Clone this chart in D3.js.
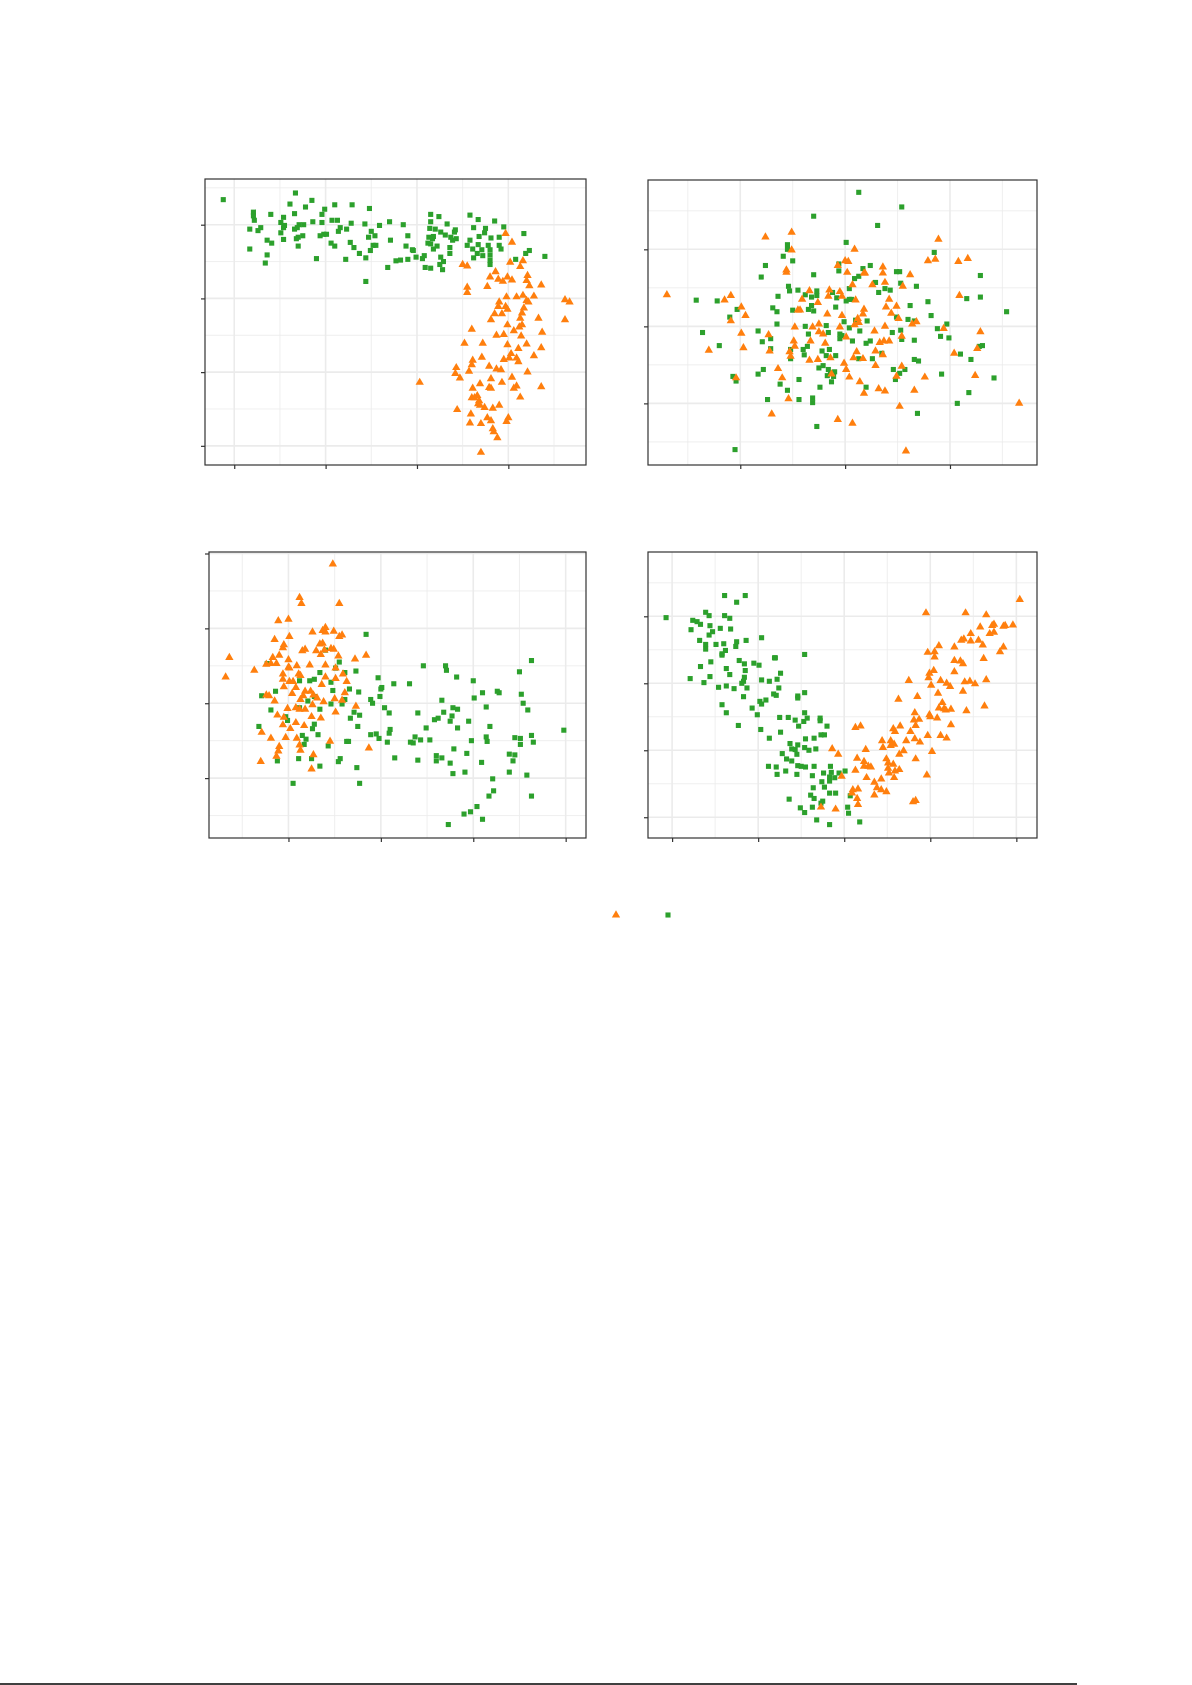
<!DOCTYPE html>
<html><head><meta charset="utf-8">
<script src="https://cdn.jsdelivr.net/npm/d3@7"></script>
<style>body{margin:0;background:#fff}</style></head>
<body><svg id="c" width="1192" height="1685"></svg>
<script>
const p1Green=[[-1.2,33.4],[6.7,34.3],[6.1,32.8],[8.5,33.3],[11,32.7],[12.9,32.7],[14.8,32.2],[7.8,32.4],[9.9,32.1],[4,31.4],[6.6,31.5],[9.6,31.4],[2.1,31.7],[2.1,31.2],[2.2,30.6],[5.4,31],[5.1,30.3],[5.5,29.9],[5.4,29.6],[7.1,30],[7.6,30],[8.6,30.4],[9.6,30.3],[10.7,30.6],[11.3,30.6],[12.8,30.2],[14.3,30.1],[15.9,29.9],[17,30.4],[18.5,30],[1.7,29.4],[2.6,29.2],[2.9,29.6],[6.6,29.4],[6.9,29.6],[5.1,28.9],[11.6,29.6],[11.4,29.1],[12.3,29.4],[15,29.1],[9.4,28.5],[9.8,28.7],[10.1,28.7],[7.5,28.5],[7,28.3],[6.8,28.1],[5.4,28],[3.6,27.9],[4.1,27.5],[10.6,27.5],[11,27.1],[12.7,27.6],[14.7,28.3],[15.4,28.5],[17.1,27.9],[19,28.5],[7,27.1],[13.1,26.9],[15.2,27.2],[15.5,27.2],[14.9,26.5],[1.7,26.7],[3.6,25.9],[3.4,24.8],[9,25.4],[12.2,25.3],[13.7,26.1],[14.4,25.5],[16.8,24.2],[17.7,25.1],[18.2,25.2],[19,25.3],[18.8,27.1],[19.5,26.6],[19.6,26.5],[19.9,25.6],[20.6,25.4],[20.8,25.8],[14.4,22.3],[21.5,31.4],[22.4,31.1],[21.5,30.4],[23.3,30.1],[25.8,31.3],[26.7,30.7],[28.5,30.5],[29.5,29.7],[21.4,29.5],[22,29.4],[22.6,29],[24.2,29.3],[24.1,29],[26.2,29.6],[27.5,29.5],[27.4,28.9],[21.3,28.3],[21.8,28.4],[21.7,28.1],[23.1,28.6],[23.7,28.3],[24.3,28.1],[23.9,27.9],[25.8,27.9],[26.8,28.4],[28.1,28.2],[29,28.3],[21.2,27.5],[21.5,27.4],[22.2,27.1],[21.8,26.7],[23.6,26.9],[25.5,27.2],[26.7,27.3],[27.8,27.2],[29,27.2],[29.2,26.7],[26.1,26.7],[27.1,26.6],[26.6,26.1],[27.2,25.8],[28,26.6],[28,25.9],[23.6,26.1],[22.6,25.6],[22.9,25],[22.5,24.6],[22.8,23.9],[20.9,24.2],[21.5,24.1],[26.2,25.5],[28,25.2],[28,24.6],[31.7,28.8],[31.9,26.1],[32.3,26.5],[30.8,25.3],[34,25.7]];
const p1Orange=[[29.7,28.8],[30.4,27.6],[25,24.6],[25.5,24.4],[30.2,24.9],[31.6,25.1],[31.3,24.3],[28.6,23.6],[28,22.9],[28.9,22.6],[29.4,22.3],[29.9,22.9],[30.4,22.5],[32.1,23.1],[32,22.4],[32.3,21.7],[33.6,21.8],[27.7,21.6],[25.5,21.5],[25.5,20.8],[29.8,20.2],[30.9,20.2],[31.6,20.4],[32.8,20.3],[32,19.7],[32.2,19.5],[29,19.5],[28.9,18.9],[29.7,18.9],[29.9,18.5],[31.7,18.7],[31.5,18],[28.5,17.9],[29.3,17.9],[28.1,17.1],[31.3,17.3],[33.3,17.3],[31.5,16.4],[29.9,16.4],[30.6,15.6],[31.2,16.1],[31.4,14.9],[29.5,15.1],[28.7,15],[26,15.8],[33.7,15.4],[36.2,19.8],[36.7,19.5],[36.2,17.1],[25.2,13.9],[27.2,13.9],[29.9,13.7],[32,13.8],[31.1,13.2],[33.6,13.3],[30.3,12.5],[29.5,11.7],[30.1,11.9],[30.9,11.9],[31.1,11.4],[32.8,12.2],[27.1,12],[26.1,11.6],[26,11],[27.9,10.8],[28.7,10.4],[29.2,10.3],[32.1,10],[24.3,10.6],[25.7,10.1],[24.2,9.8],[24.7,9.2],[20.3,8.6],[26.9,8.4],[28.1,9.1],[29.3,8.6],[30.4,9.3],[30.9,8.1],[30.6,7.8],[33.6,8],[26.1,7.8],[27.9,7.9],[28.1,7.8],[31.3,6.6],[26,6.5],[26.6,6.8],[26.3,6.5],[26.8,6.1],[26.7,5.7],[26.9,5.5],[27.4,5.2],[28.3,5.1],[29,5.5],[24.4,4.9],[25.9,4.3],[27.7,3.8],[28.1,3.4],[30,3.8],[29.8,3.3],[25.8,3.1],[27,3],[28.3,2.3],[28.4,1.9],[28.8,1.1],[27,-0.9]];
const p2Green=[[11.3,27.4],[15.4,25.5],[7,24.3],[13.1,23.1],[10.1,20.9],[4.5,20.6],[4.5,20],[18.5,19.6],[4.1,19.1],[5,18.5],[2.4,17.9],[9.4,18.1],[9.4,17.2],[12.4,17.9],[11.7,17.5],[2,16.4],[7,16.7],[14.9,17.1],[15.2,17.1],[10.9,16.2],[11.3,16.5],[22.9,16.6],[12.9,15.7],[15.3,15.6],[16.8,15.2],[4.6,15.2],[5.5,14.7],[4.7,14.6],[7.3,14.6],[8.8,14.4],[10.4,14.9],[13.2,14.4],[13.8,14.9],[14.3,14.7],[3.6,13.9],[6.2,14.1],[6.8,13.8],[7.3,14],[9.2,13.7],[10.4,13.5],[10.6,13.5],[10.1,13.3],[21.6,13.6],[22.9,13.8],[17.9,13.2],[-4.2,13.4],[-2.2,13.3],[-0.3,12.2],[3.1,12.4],[3.5,11.9],[5,12.1],[6.5,12.2],[6.8,12.7],[7,12],[9.1,12.5],[16.2,12.7],[18.2,11.4],[25.4,11.9],[-1,11.2],[11,10.8],[12.1,10.7],[14.9,11.2],[16,10.9],[16.6,10.7],[3.5,10.3],[6.2,10],[8.2,10.1],[9.9,10.6],[-3.6,9.2],[1.7,9.4],[6.5,9],[8.4,9.2],[9.5,9],[9.7,8.8],[10.4,9.8],[11.4,9.4],[14.5,9.2],[15.3,9.5],[18.8,9.7],[19.7,10.3],[19.1,8.7],[19.9,8.5],[-2,7.5],[2.1,8],[2.9,8.4],[2.9,7.1],[6.4,7.4],[9.5,8.4],[10.7,8.1],[12,7.8],[12.4,8.1],[15.4,8.3],[16.6,8.2],[22.8,7.4],[23.1,7.5],[4.8,7],[6,7],[7.8,6.8],[8.5,7],[6.1,6.3],[8.2,6.2],[9.1,6.2],[4.8,5.8],[11.3,5.8],[12.6,5.8],[13.5,6.5],[16.6,5.7],[17,5.5],[21,6.4],[22,5.7],[7.9,4.9],[7.5,4.6],[8.4,4.4],[9,4.1],[8.6,3.9],[8.3,3.6],[8.9,3.5],[8.7,2.8],[14.6,4.4],[15.7,4.4],[15.2,3.9],[14.8,3.1],[19.2,3.8],[24.2,3.3],[-0.7,3.5],[-0.4,2.9],[1.7,3.8],[2.2,4.4],[5.6,3.1],[3.8,2.5],[4.5,1.7],[7.6,2.1],[12,2.1],[21.8,1.4],[2.6,0.5],[5.6,0.5],[6.9,0.7],[6.9,0.1],[20.7,0],[16.9,-1.3],[7.3,-3],[-0.5,-6]];
const p2Orange=[[4.9,22.2],[2.4,21.6],[18.9,21.3],[4.9,19.9],[10.9,20],[17.9,18.5],[18.6,18.7],[20.8,18.4],[21.7,18.8],[10,18.5],[10.3,18.4],[9.3,17.9],[4.4,17.3],[4.4,17],[10.2,17],[13.6,17.7],[13.6,16.9],[11.8,16.9],[11.9,16.9],[16.2,16.7],[12.6,15.4],[13.8,15.7],[15.5,15.2],[10.7,15.4],[-7,14.1],[-0.9,14],[-1.5,13.4],[0.1,12.5],[0.5,11.4],[-0.9,10.7],[6.6,14.6],[8.5,14.7],[9.5,14.5],[8.4,13.9],[9.7,13.9],[5.9,13.5],[7.4,13.1],[11,13.4],[14.2,13.5],[20.9,14],[5.5,12.1],[5.7,12.1],[8.3,11.6],[11.8,12.2],[11.7,11.6],[9.7,11.4],[13.9,12.5],[14.4,11.7],[14.9,12.6],[15.1,11],[11.2,11],[11.3,10.5],[10.9,10.2],[16.8,10.6],[16.4,10.3],[5.2,9.9],[6.9,9.9],[7.5,10.3],[9.5,9.9],[13.8,10],[12.8,9.4],[19.4,9.7],[22.9,9.3],[7.5,9.3],[7.9,9],[0.1,9.1],[2.7,8.9],[10.1,8.6],[15.4,8.7],[0.3,7.2],[-3,6.9],[2.8,6.8],[5.1,8.1],[5.2,7.4],[6.7,8.1],[8.1,7.8],[13.3,7.9],[13.7,8.1],[14.2,8.1],[4.7,6.7],[4.8,6.1],[11.1,6.7],[12.9,6.8],[13.6,6.3],[20.4,6.5],[22.6,7.1],[6.6,5.6],[7.4,5.7],[8.6,5.9],[10.8,5.9],[11.7,5.8],[9.9,5.2],[12.9,4.9],[15.4,4.8],[3.6,4.5],[10.1,4.4],[4,3.3],[8.7,3.8],[10.4,3.4],[11.4,2.8],[14.9,3.5],[17.6,3.4],[22.4,3.6],[-0.4,3.3],[13.2,1.9],[13.8,1.6],[11.8,1.3],[16.6,1.7],[4.6,0.6],[26.6,0],[15.2,-0.4],[3,-1.4],[9.3,-2.1],[10.7,-2.6],[15.8,-6.2]];
const p3Orange=[[4.8,28.6],[1.2,24.1],[1.4,23.3],[5.5,23.3],[-1.1,21],[0,21.2],[0.1,18.9],[2.6,19.5],[3.7,19.7],[4,20.1],[4,19.5],[4.9,19.6],[5.5,18.9],[5.8,19.1],[-1.5,18.5],[-0.5,17.8],[-0.6,17.4],[3.4,17.9],[3.7,18],[1.8,17.2],[1.5,17],[3,17],[3.5,16.5],[3.9,17.1],[4.6,17.3],[4.9,17.2],[5.4,16.3],[8.4,16.4],[7.2,15.9],[-6.4,16.1],[-1.7,16.1],[-1,16.4],[0,15.8],[-2.4,15.2],[-1.9,15.3],[-1.3,15.3],[0,14.8],[0.1,14.7],[0.9,15],[2.3,15.1],[4,15.1],[5.1,14.7],[-3.7,14.4],[-6.8,13.5],[-0.6,13.9],[1.1,13.9],[1.3,13.7],[4,13.5],[5.1,13.3],[5.9,13.9],[6.3,12.9],[-0.6,13.2],[0.1,12.9],[0.5,12.9],[-0.5,12.2],[0.8,12.1],[1.8,11.6],[2.4,11.6],[3.6,12.5],[-2.4,11.1],[-2.1,11],[0.4,11.3],[1.6,11],[2.7,11.1],[3.1,10.7],[5,10.6],[6.1,11.4],[5.8,10.4],[-1.5,10.3],[1.3,10.5],[2.6,9.8],[3.8,10.2],[-0.1,9.3],[0.8,9.4],[1.2,9.2],[1.8,9.2],[7.3,9.6],[-1.2,8.4],[-0.5,8.1],[2.5,8.2],[3.5,8],[5.1,8.8],[0.8,7.4],[-0.6,7.1],[1.7,7],[0.2,6.6],[-2.9,6.1],[-1.9,5.3],[-0.3,5.4],[0.9,5.3],[4.5,4.9],[1.2,4.4],[-1,4.2],[1.3,3.7],[-1.1,3.6],[-1.3,2.9],[2.7,3.1],[8.7,4],[-3,2.2],[2.5,1.2]];
const p3Green=[[8.4,19.2],[4,17.1],[5.5,15.5],[-2.3,15.3],[5.1,14.7],[6.1,14.1],[7.3,14.3],[3.4,14.1],[2.3,13],[2.8,13.2],[1.2,13],[4.6,12.8],[9.7,13.4],[11.4,12.6],[13.1,12.6],[10.1,12.1],[10,11.9],[6.6,11.9],[7.6,11.5],[4.8,11.7],[-1.4,11.6],[-2.9,11],[2.8,10.9],[2.1,10.3],[9.9,10.9],[14.6,15],[17,15],[17.1,14.4],[18.2,13.5],[20,13],[26.3,15.7],[25,14.2],[22.6,11.6],[22.8,11.4],[25.2,11.2],[21,11.4],[20.1,10.7],[16.6,10.4],[25.4,10],[6.1,10.5],[8.9,10.5],[9.1,10],[4.6,9.9],[5.8,9.9],[3.4,9.2],[1.2,9.4],[-1.9,9.1],[-0.3,8.2],[7.1,8.8],[6.7,8],[7.7,8.4],[10.4,9.4],[10.9,8.7],[14,8.7],[17.8,9.4],[18.3,9.2],[21.4,9.5],[25.9,9.1],[16.8,8.8],[15.8,7.8],[16.2,8],[17.5,7.6],[17.7,8.3],[19.5,7.6],[-0.1,7.7],[2.8,7.2],[7.5,6.9],[-3.2,6.9],[14.9,6.7],[18.3,6.7],[21.8,6.9],[2.6,6.6],[11,6.5],[9.5,5.9],[1.5,5.7],[1.9,5.2],[3.2,5.8],[8.9,5.8],[9.8,5.3],[10.9,6],[13.7,5.5],[14.3,5.1],[15.3,5.1],[21.4,5.5],[21.5,4.9],[24.5,5.4],[25.1,5.3],[26.3,5.7],[29.8,6.4],[6.5,4.9],[6.3,4.9],[10.7,4.8],[13.2,4.8],[13.5,4.7],[19.8,5],[26.5,4.8],[25.1,4.5],[1.7,4.5],[4.3,4.3],[17.9,3.9],[19.3,3.3],[23.9,3.2],[24.5,3.1],[16,3],[16.6,2.7],[11.5,2.7],[5.6,2.6],[5.4,2.2],[1.1,2.6],[2.5,2.6],[-1.2,2.3],[16,2.3],[14,2.4],[17.5,2],[24.3,2.3],[20.9,2.1],[3.4,1.6],[7.4,1.4],[17.8,0.6],[19.1,0.8],[23.9,0.8],[25.8,0.4],[22.1,-0.1],[0.5,-0.7],[7.7,-0.7],[22.2,-1.7],[21.7,-2.4],[26.3,-2.4],[20.4,-3.8],[19.7,-4.5],[19,-4.8],[21,-5.5],[17.3,-6.2]];
const p4Green=[[-0.7,29.8],[6.1,33.1],[8.5,33.1],[7.5,32.1],[3.9,30.6],[4.3,30.1],[2.4,29.4],[2.9,29.2],[3.3,28.8],[6.1,30.1],[6.7,29.7],[2.2,28],[4.4,28.6],[5.6,28.2],[6.8,28.1],[4.7,27.7],[4.3,27.2],[3.2,26.4],[3.9,25.8],[5.1,25.8],[6,25.9],[7.5,26.2],[7.4,25.5],[8.6,26.4],[10.4,26.8],[3.9,25.1],[6.2,24.9],[5.8,24.4],[5.8,24.2],[11.9,23.8],[12,23.8],[15.4,24.3],[4.5,23.2],[7.8,23.4],[8.4,22.9],[9.5,23],[10.1,22.7],[3.3,22.5],[6.3,22.2],[8.5,21.9],[6.7,21.3],[8.4,20.9],[8.3,20.3],[12.6,21.5],[12.2,20.6],[2.1,20.7],[4.4,21],[3.7,20.1],[8.1,20],[10.4,20.5],[11.3,20.3],[5.4,19.4],[6.3,19.6],[7.2,19.2],[8.7,19.3],[12.4,19.3],[11.8,18.4],[12.1,18.2],[15.4,18.6],[8.3,18],[14.6,18.1],[14.6,17.8],[10.2,17.3],[10.9,17.5],[10.4,16.9],[5.8,16.8],[9.3,16.3],[6.3,15.6],[15.4,15.6],[9.9,15.3],[7.7,13.7],[12.5,14.9],[13.5,14.9],[14.3,14.5],[15.3,14.3],[15.7,14.8],[17.2,14.8],[17.2,14.4],[14.7,13.6],[18,13.6],[10.3,13.1],[12.6,12.7],[17.3,12.3],[17.7,12.3],[11.3,11.8],[15.5,11.7],[16.5,11.8],[13.7,11],[14.6,10.8],[13.9,10.2],[14.3,10.1],[15.4,10.4],[15.9,10],[16.7,10.2],[12.8,9.5],[13.3,8.7],[14.5,9.4],[13.9,8.4],[14.6,7.7],[15,7.6],[15.5,7.5],[16.5,7.6],[18.4,7.6],[11.2,7.6],[12.1,7.5],[12.2,6.4],[13.2,6.9],[14.5,6.4],[16.3,6.2],[17.6,6.6],[18.5,6.7],[18.9,5.9],[19.4,6.6],[20.1,6.9],[18.3,6],[17.4,5.3],[18.3,5.4],[16.4,4.4],[17.7,4.5],[18.3,3.6],[19,3.6],[16.1,3.3],[16.5,2.8],[13.6,2.7],[17.5,2.4],[17.3,2.1],[20.7,3.2],[14.9,1.4],[15.4,0.7],[16.3,1.5],[20.4,1.5],[20.5,0.6],[16.8,-0.4],[18.3,-1.1],[21.8,-0.7]];
const p4Orange=[[40.4,32.5],[29.5,30.5],[34.1,30.5],[36.5,30.2],[35.8,28.4],[37.2,28.6],[37.4,28.8],[38.5,28.5],[38.7,28.6],[39.6,28.7],[34.7,27.4],[36.9,27.4],[37.4,27.6],[33.6,26.4],[33.9,26.6],[34.7,26.3],[35.6,26.4],[36.1,25.7],[31,25.6],[32.8,25.4],[29.7,24.6],[30.5,24.7],[30.5,23.9],[38.5,25.4],[38.1,24.7],[36.2,23.7],[32.8,23.4],[33.5,23.3],[33.8,22.9],[32.8,21.7],[30.4,21.9],[29.9,21.5],[29.8,20.8],[27.5,20.4],[31.2,20.4],[31.9,20],[32.3,19.5],[34,20.2],[34.6,20.3],[35.2,19.9],[36.5,20.5],[30.1,19.7],[33.8,18.8],[30.9,18.5],[28.5,18],[26.3,17.6],[31.4,17.1],[31,16.3],[31.6,16.2],[31.8,16],[32.4,16.1],[34.2,15.9],[36.3,16.6],[28.2,15.6],[29.9,15.3],[30,15],[30.8,14.8],[28.1,14.5],[28.7,14.6],[32.4,13.8],[21.3,13.4],[21.9,13.6],[26.5,13.6],[25.7,13.2],[25.9,12.8],[28.3,13.7],[27.7,12.8],[29.7,12.2],[31.2,12.2],[31.9,11.8],[24.4,11.4],[25.4,11.4],[25.8,10.9],[25.4,10.7],[24.5,10.4],[27.2,11.4],[28.2,11.7],[28.8,11.2],[18.6,10.2],[19.3,9.4],[22.5,10.1],[26.4,9.4],[26.9,9.9],[30.2,9.8],[21.5,8.8],[22.3,8.3],[28.3,8.7],[24.9,8.7],[25.1,8.1],[25.7,7.9],[22.3,7.6],[22.8,7.6],[23.1,7.5],[21.3,7],[25.1,7.3],[25.2,6.6],[25.9,6.9],[26.4,7.1],[19.7,6.1],[22.6,5.9],[25.8,5.9],[29.6,6.3],[24.3,5.7],[23.5,5.2],[23.8,4.4],[24.3,4.1],[24.9,3.8],[21,4.1],[21.6,4.2],[20.9,3.6],[23.5,3.3],[21.5,2.8],[21.6,1.9],[28,2.3],[28.3,2.5],[17.3,1.5],[19,1.2]];

const xTicks1=[0,10,20,30], yTicks1=[0,10,20,30];
const xTicks2=[0,10,20], yTicks2=[0,10,20];
const xTicks3=[0,10,20,30], yTicks3=[0,10,20,30];
const xTicks4=[0,10,20,30,40], yTicks4=[0,10,20,30];

const GREEN="#2ca02c", ORANGE="#ff7f0e";
const panels=[
 {box:[205,179,586,465],xd:[-3.2,38.5],yd:[-2.6,36.2],xt:xTicks1,yt:yTicks1,g:p1Green,o:p1Orange},
 {box:[648,180,1037,465],xd:[-8.8,28.3],yd:[-8.0,29.0],xt:xTicks2,yt:yTicks2,g:p2Green,o:p2Orange},
 {box:[209,552,586,838],xd:[-8.6,32.2],yd:[-8.0,30.2],xt:xTicks3,yt:yTicks3,g:p3Green,o:p3Orange},
 {box:[648,552,1037,838],xd:[-2.8,42.4],yd:[-3.1,39.6],xt:xTicks4,yt:yTicks4,g:p4Green,o:p4Orange}
];
const svg=d3.select("#c");
const sq=d3.symbol().type(d3.symbolSquare).size(26);
const tri=d3.symbol().type(d3.symbolTriangle).size(30);
panels.forEach(p=>{
  const [x0,y0,x1,y1]=p.box;
  const x=d3.scaleLinear().domain(p.xd).range([x0,x1]);
  const y=d3.scaleLinear().domain(p.yd).range([y1,y0]);
  const g=svg.append("g");
  const step=10;
  const minorX=[],minorY=[];
  for(let v=Math.ceil(p.xd[0]/5)*5;v<=p.xd[1];v+=5) if(v%10!==0) minorX.push(v);
  for(let v=Math.ceil(p.yd[0]/5)*5;v<=p.yd[1];v+=5) if(v%10!==0) minorY.push(v);
  g.selectAll(".mx").data(minorX).join("line").attr("x1",d=>x(d)).attr("x2",d=>x(d)).attr("y1",y0).attr("y2",y1).attr("stroke","#ebebeb").attr("stroke-width",0.8);
  g.selectAll(".my").data(minorY).join("line").attr("y1",d=>y(d)).attr("y2",d=>y(d)).attr("x1",x0).attr("x2",x1).attr("stroke","#ebebeb").attr("stroke-width",0.8);
  g.selectAll(".Mx").data(p.xt).join("line").attr("x1",d=>x(d)).attr("x2",d=>x(d)).attr("y1",y0).attr("y2",y1).attr("stroke","#ebebeb").attr("stroke-width",1.6);
  g.selectAll(".My").data(p.yt).join("line").attr("y1",d=>y(d)).attr("y2",d=>y(d)).attr("x1",x0).attr("x2",x1).attr("stroke","#ebebeb").attr("stroke-width",1.6);
  g.append("rect").attr("x",x0).attr("y",y0).attr("width",x1-x0).attr("height",y1-y0).attr("fill","none").attr("stroke","#333").attr("stroke-width",1.2);
  g.append("g").attr("transform",`translate(0,${y1})`).call(d3.axisBottom(x).tickValues(p.xt).tickSize(4).tickFormat("")).call(a=>{a.select(".domain").remove();a.selectAll("line").attr("stroke","#333").attr("stroke-width",1.2);});
  g.append("g").attr("transform",`translate(${x0},0)`).call(d3.axisLeft(y).tickValues(p.yt).tickSize(4).tickFormat("")).call(a=>{a.select(".domain").remove();a.selectAll("line").attr("stroke","#333").attr("stroke-width",1.2);});
  g.selectAll(".g").data(p.g).join("path").attr("d",sq).attr("fill",GREEN).attr("transform",d=>`translate(${x(d[0])},${y(d[1])})`);
  g.selectAll(".o").data(p.o).join("path").attr("d",tri).attr("fill",ORANGE).attr("transform",d=>`translate(${x(d[0])},${y(d[1])})`);
});
svg.append("path").attr("d",tri).attr("fill",ORANGE).attr("transform","translate(616,915)");
svg.append("path").attr("d",sq).attr("fill",GREEN).attr("transform","translate(668,915)");
svg.append("line").attr("x1",0).attr("x2",1077).attr("y1",1684).attr("y2",1684).attr("stroke","#000").attr("stroke-width",1.5);
</script></body></html>
